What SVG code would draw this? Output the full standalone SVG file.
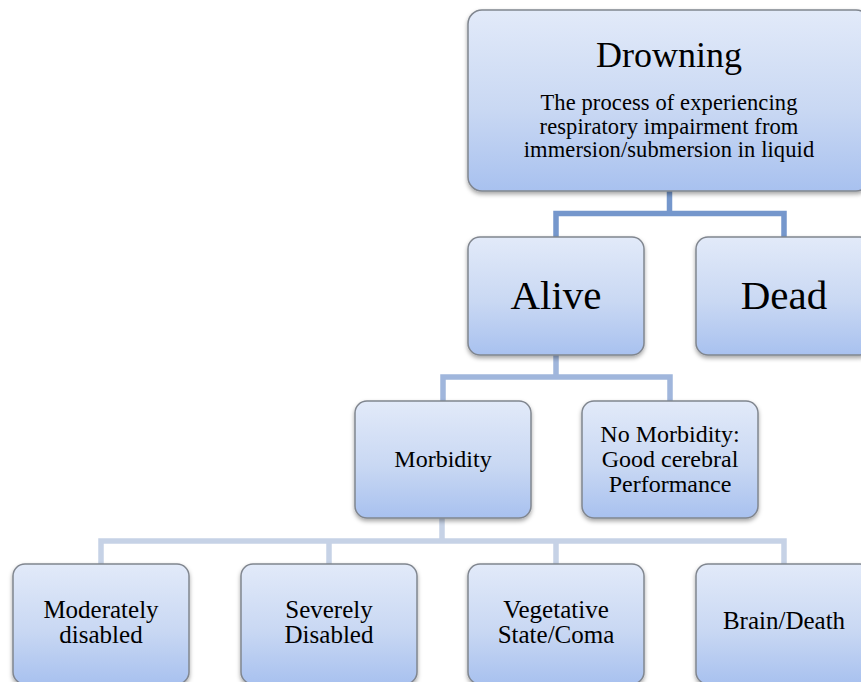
<svg xmlns="http://www.w3.org/2000/svg" width="861" height="682" viewBox="0 0 861 682">
<defs>
<linearGradient id="g" x1="0" y1="0" x2="0" y2="1">
<stop offset="0" stop-color="#e2eaf9"/>
<stop offset="0.55" stop-color="#c9d8f3"/>
<stop offset="1" stop-color="#a8c1ef"/>
</linearGradient>
<filter id="sh" x="-10%" y="-10%" width="120%" height="125%">
<feDropShadow dx="0" dy="2.5" stdDeviation="2" flood-color="#000" flood-opacity="0.35"/>
</filter>
<style>
.box{fill:url(#g);stroke:#80868f;stroke-width:1.5;filter:url(#sh)}
.t{font-family:"Liberation Serif","Times New Roman",serif;fill:#000;text-anchor:middle}
.c{fill:none;stroke-width:5.5;stroke-linejoin:miter}
</style>
</defs>
<rect width="861" height="682" fill="#fff"/>
<g id="connectors">
<path class="c" stroke="#7597cc" d="M669.5 191V213.5M556 237V213.5H784V237"/>
<path class="c" stroke="#a0b6dc" d="M556 355V377M443 401V377H670V401"/>
<path class="c" stroke="#c6d2e6" d="M442 518V541M101 564V541H784V564M329 541V564M556 541V564"/>
</g>
<g id="drowning">
<rect class="box" x="468" y="10" width="402" height="181" rx="14"/>
<text class="t" x="669" y="67" font-size="36">Drowning</text>
<text class="t" x="669" font-size="22.5" letter-spacing="0.1"><tspan x="669" y="110">The process of experiencing</tspan><tspan x="669" y="133.5">respiratory impairment from</tspan><tspan x="669" y="157">immersion/submersion in liquid</tspan></text>
</g>
<g id="alive">
<rect class="box" x="468" y="237" width="176" height="118" rx="12"/>
<text class="t" x="556" y="309" font-size="41">Alive</text>
</g>
<g id="dead">
<rect class="box" x="696" y="237" width="176" height="118" rx="12"/>
<text class="t" x="784" y="309" font-size="41">Dead</text>
</g>
<g id="morbidity">
<rect class="box" x="355" y="401" width="176" height="117" rx="12"/>
<text class="t" x="443" y="467" font-size="24">Morbidity</text>
</g>
<g id="no-morbidity">
<rect class="box" x="582" y="401" width="176" height="117" rx="12"/>
<text class="t" font-size="24"><tspan x="670" y="442">No Morbidity:</tspan><tspan x="670" y="467">Good cerebral</tspan><tspan x="670" y="492">Performance</tspan></text>
</g>
<g id="moderately">
<rect class="box" x="13" y="564" width="176" height="120" rx="12"/>
<text class="t" font-size="25"><tspan x="101" y="618">Moderately</tspan><tspan x="101" y="643">disabled</tspan></text>
</g>
<g id="severely">
<rect class="box" x="241" y="564" width="176" height="120" rx="12"/>
<text class="t" font-size="25"><tspan x="329" y="618">Severely</tspan><tspan x="329" y="643">Disabled</tspan></text>
</g>
<g id="vegetative">
<rect class="box" x="468" y="564" width="176" height="120" rx="12"/>
<text class="t" font-size="25"><tspan x="556" y="618">Vegetative</tspan><tspan x="556" y="643">State/Coma</tspan></text>
</g>
<g id="brain-death">
<rect class="box" x="696" y="564" width="176" height="120" rx="12"/>
<text class="t" x="784" y="629" font-size="25">Brain/Death</text>
</g>
</svg>
